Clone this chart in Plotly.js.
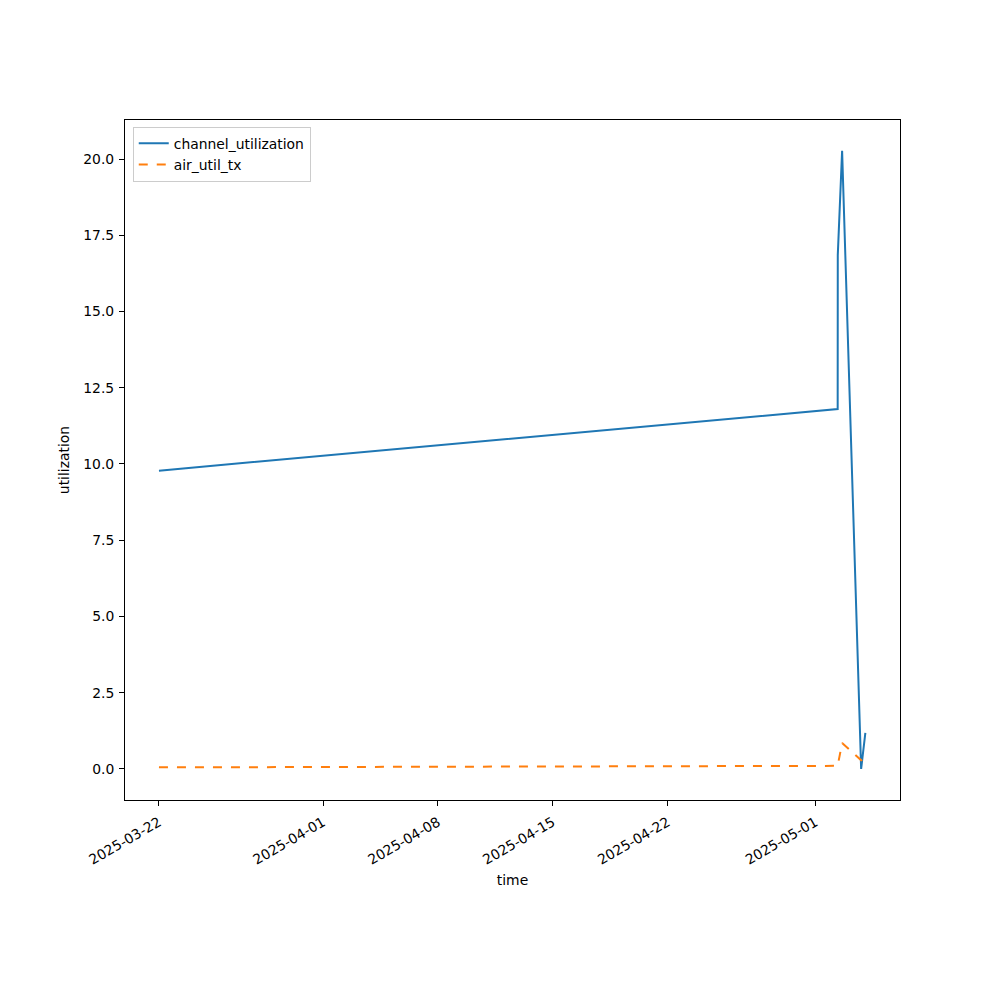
<!DOCTYPE html>
<html>
<head>
<meta charset="utf-8">
<script src="https://cdn.plot.ly/plotly-3.0.1.min.js"></script>
<style>html,body{margin:0;padding:0;background:#fff;}#chart{width:1000px;height:1000px;}</style>
</head>
<body>
<div id="chart"></div>
<script>
// Data
const channelTimes = ['2025-03-22 00:00', '2025-05-02 08:40', '2025-05-02 08:50', '2025-05-02 15:10', '2025-05-03 19:00', '2025-05-04 01:10'];
const channelUtil = [9.78, 11.80, 16.85, 20.27, 0.0, 1.18];
const airTimes = ['2025-03-22 00:00', '2025-05-02 08:40', '2025-05-02 15:10', '2025-05-03 19:00', '2025-05-04 01:10'];
const airUtil = [0.05, 0.10, 0.85, 0.28, 0.35];
const xTickVals = ['2025-03-22', '2025-04-01', '2025-04-08', '2025-04-15', '2025-04-22', '2025-05-01'];
const yTickVals = [0, 2.5, 5, 7.5, 10, 12.5, 15, 17.5, 20];

const font = {family: 'DejaVu Sans, sans-serif', size: 13.9, color: '#000'};

const traces = [
  {x: channelTimes, y: channelUtil, type: 'scatter', mode: 'lines', name: 'channel_utilization',
   line: {color: '#1f77b4', width: 2}},
  {x: airTimes, y: airUtil, type: 'scatter', mode: 'lines', name: 'air_util_tx',
   line: {color: '#ff7f0e', width: 2, dash: 'dash'}}
];

const layout = {
  width: 1000, height: 1000,
  margin: {l: 125, r: 100, t: 120, b: 200},
  paper_bgcolor: '#fff', plot_bgcolor: '#fff',
  font: font,
  showlegend: true,
  legend: {x: 0.010, y: 0.99, xanchor: 'left', yanchor: 'top', bgcolor: 'rgba(255,255,255,0.8)',
           bordercolor: '#cccccc', borderwidth: 1, font: font, tracegroupgap: 0, itemwidth: 30},
  xaxis: {
    type: 'date',
    range: ['2025-03-19 22:20', '2025-05-06 03:50'],
    tickvals: xTickVals,
    ticktext: xTickVals,
    tickangle: -30,
    ticks: 'outside', ticklen: 5, tickwidth: 1, tickcolor: '#000',
    ticklabelstandoff: 3,
    showgrid: false, zeroline: false,
    showline: true, linecolor: '#000', linewidth: 1, mirror: true,
    title: {text: 'time', font: font, standoff: 8},
    tickfont: font
  },
  yaxis: {
    range: [-1.02, 21.28],
    tickvals: yTickVals,
    ticktext: yTickVals.map(v => v.toFixed(1)),
    ticks: 'outside', ticklen: 5, tickwidth: 1, tickcolor: '#000',
    ticklabelstandoff: 2,
    showgrid: false, zeroline: false,
    showline: true, linecolor: '#000', linewidth: 1, mirror: true,
    title: {text: 'utilization', font: font, standoff: 10},
    tickfont: font
  }
};

Plotly.newPlot('chart', traces, layout, {displayModeBar: false, staticPlot: true});
</script>
</body>
</html>
